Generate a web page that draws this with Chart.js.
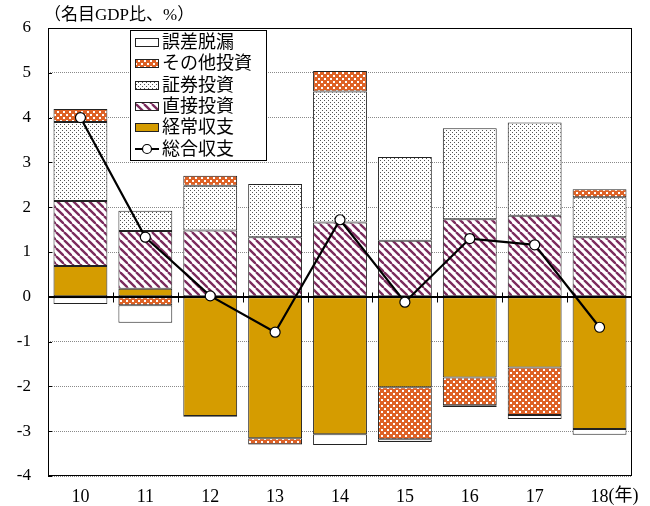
<!DOCTYPE html>
<html>
<head>
<meta charset="utf-8">
<script src="https://cdn.jsdelivr.net/npm/chart.js@4.4.1/dist/chart.umd.min.js"></script>
<style>
  html, body { margin: 0; padding: 0; background: #fff; }
  #wrap { width: 650px; height: 506px; position: relative; }
</style>
</head>
<body>
<div id="wrap"><canvas id="myChart"></canvas></div>
<script>
// data (名目GDP比、%)
const years = ['10', '11', '12', '13', '14', '15', '16', '17', '18'];
const keijo = [0.69, 0.18, -2.66, -3.16, -3.07, -2.02, -1.80, -1.58, -2.95];      // 経常収支
const chokusetsu = [1.45, 1.29, 1.48, 1.33, 1.66, 1.25, 1.73, 1.81, 1.33];        // 直接投資
const shoken = [1.76, 0.45, 1.00, 1.19, 2.92, 1.87, 2.03, 2.08, 0.89];            // 証券投資
const sonota = [0.29, -0.19, 0.22, -0.13, 0.46, -1.16, -0.62, -1.06, 0.18];       // その他投資
const gosa = [-0.16, -0.39, -0.02, -0.01, -0.24, -0.06, -0.04, -0.09, -0.13];     // 誤差脱漏
const sogo = [4.00, 1.33, 0.02, -0.79, 1.72, -0.12, 1.30, 1.16, -0.68];           // 総合収支
const yTicks = [-4, -3, -2, -1, 0, 1, 2, 3, 4, 5, 6];

const FONT = "'Liberation Serif', 'Noto Sans CJK JP', serif";
const GOLD = '#D59C00';
const ORANGE = '#DE6226';
const PLUM = '#7B2A5C';

function makePattern(w, h, draw) {
  const c = document.createElement('canvas');
  c.width = w; c.height = h;
  const g = c.getContext('2d');
  draw(g);
  return g.createPattern(c, 'repeat');
}

// orange checker with small white squares
const checker = makePattern(6, 6, g => {
  g.fillStyle = ORANGE; g.fillRect(0, 0, 6, 6);
  g.fillStyle = '#fff';
  g.fillRect(0, 0, 2, 2);
  g.fillRect(3, 3, 2, 2);
});
const dots = makePattern(4, 4, g => {
  g.fillStyle = '#fff'; g.fillRect(0, 0, 4, 4);
  g.fillStyle = '#555';
  g.fillRect(0, 0, 1, 1);
  g.fillRect(2, 2, 1, 1);
});
const stripes = makePattern(8, 8, g => {
  g.fillStyle = '#fff'; g.fillRect(0, 0, 8, 8);
  g.strokeStyle = PLUM; g.lineWidth = 2.3;
  [-8, 0, 8].forEach(o => {
    g.beginPath(); g.moveTo(o, 0); g.lineTo(o + 8, 8); g.stroke();
  });
});

// box, zero line and the little ticks between years
const framePlugin = {
  id: 'frame',
  beforeDatasetsDraw(chart) {
    const { ctx, chartArea: a, scales } = chart;
    ctx.save();
    ctx.strokeStyle = '#000';
    ctx.lineWidth = 1;
    ctx.strokeRect(a.left + 0.5, a.top + 0.5, a.right - a.left - 1, a.bottom - a.top - 1);
    yTicks.forEach(v => {
      const y = Math.round(scales.y.getPixelForValue(v)) + 0.5;
      ctx.beginPath(); ctx.moveTo(a.left, y); ctx.lineTo(a.left + 4, y); ctx.stroke();
    });
    ctx.restore();
  },
  beforeDatasetDraw(chart, args) {
    if (args.meta.type !== 'line') return;
    const { ctx, chartArea: a, scales } = chart;
    const y0 = Math.round(scales.y.getPixelForValue(0)) + 0.5;
    ctx.save();
    ctx.strokeStyle = '#000';
    ctx.lineWidth = 1.2;
    ctx.beginPath(); ctx.moveTo(a.left, y0); ctx.lineTo(a.right, y0); ctx.stroke();
    ctx.lineWidth = 1;
    for (let i = 0; i < years.length - 1; i++) {
      const x = Math.round((scales.x.getPixelForValue(i) + scales.x.getPixelForValue(i + 1)) / 2) + 0.5;
      ctx.beginPath(); ctx.moveTo(x, y0 - 5); ctx.lineTo(x, y0 + 5); ctx.stroke();
    }
    ctx.restore();
  },
  afterDraw(chart) {
    const { ctx, chartArea: a, scales } = chart;
    ctx.save();
    ctx.fillStyle = '#000';
    ctx.font = '17px ' + FONT;
    ctx.textBaseline = 'middle';
    ctx.textAlign = 'left';
    ctx.fillText('（名目GDP比、%）', a.left - 4, a.top - 12);

    // (年) after the last category label
    ctx.font = '18px ' + FONT;
    const last = scales.x.getPixelForValue(years.length - 1);
    const half = ctx.measureText(years[years.length - 1]).width / 2;
    ctx.fillText('(年)', last + half, a.bottom + 20);

    // legend box inside the plot
    const x0 = a.left + 82, top = a.top + 2, w = 136, h = 130;
    ctx.fillStyle = '#fff';
    ctx.fillRect(x0, top, w, h);
    ctx.strokeStyle = '#000';
    ctx.lineWidth = 1;
    ctx.strokeRect(x0 + 0.5, top + 0.5, w, h);
    const order = [4, 3, 2, 1, 0, 5];
    order.forEach((di, i) => {
      const ds = chart.data.datasets[di];
      const cy = Math.round(top + 12 + i * 21.3);
      if (ds.type === 'line') {
        ctx.strokeStyle = '#000'; ctx.lineWidth = 2;
        ctx.beginPath(); ctx.moveTo(x0 + 5, cy); ctx.lineTo(x0 + 29, cy); ctx.stroke();
        ctx.fillStyle = '#fff'; ctx.lineWidth = 1.2;
        ctx.beginPath(); ctx.arc(x0 + 17, cy, 4.5, 0, Math.PI * 2); ctx.fill(); ctx.stroke();
      } else {
        ctx.fillStyle = ds.backgroundColor;
        ctx.fillRect(x0 + 5, cy - 4, 24, 8);
        ctx.strokeStyle = '#222'; ctx.lineWidth = 1;
        ctx.strokeRect(x0 + 5.5, cy - 3.5, 23, 8);
      }
      ctx.fillStyle = '#000';
      ctx.font = '18px ' + FONT;
      ctx.fillText(ds.label, x0 + 32, cy + 1);
    });
    ctx.restore();
  }
};

const barBase = {
  type: 'bar',
  stack: 'bop',
  borderColor: '#222',
  borderWidth: 1,
  borderSkipped: false,
  barPercentage: 0.83,
  categoryPercentage: 1,
  order: 1
};

new Chart(document.getElementById('myChart'), {
  data: {
    labels: years,
    datasets: [
      { ...barBase, label: '経常収支', data: keijo, backgroundColor: GOLD },
      { ...barBase, label: '直接投資', data: chokusetsu, backgroundColor: stripes },
      { ...barBase, label: '証券投資', data: shoken, backgroundColor: dots },
      { ...barBase, label: 'その他投資', data: sonota, backgroundColor: checker },
      { ...barBase, label: '誤差脱漏', data: gosa, backgroundColor: '#fff' },
      {
        type: 'line',
        label: '総合収支',
        data: sogo,
        stack: 'total',
        order: 0,
        borderColor: '#000',
        borderWidth: 2.2,
        tension: 0,
        pointRadius: 5,
        pointBackgroundColor: '#fff',
        pointBorderColor: '#000',
        pointBorderWidth: 1.2
      }
    ]
  },
  options: {
    responsive: true,
    maintainAspectRatio: false,
    animation: false,
    layout: { padding: { top: 28, right: 18, left: 0, bottom: 0 } },
    plugins: { legend: { display: false }, tooltip: { enabled: false } },
    scales: {
      x: {
        stacked: true,
        afterFit: s => { s.height = 30; },
        grid: { display: false, drawTicks: false },
        border: { display: false },
        ticks: { color: '#000', padding: 10, font: { family: FONT, size: 18 } }
      },
      y: {
        stacked: true,
        min: -4,
        max: 6,
        afterFit: s => { s.width = 48; },
        afterBuildTicks: s => { s.ticks = yTicks.map(v => ({ value: v })); },
        grid: {
          drawTicks: false,
          color: c => (c.tick && c.tick.value === 0 ? '#000' : '#8a8a8a'),
          lineWidth: 1
        },
        border: { display: false, dash: c => (c.tick && c.tick.value === 0 ? [] : [1, 1]) },
        ticks: { color: '#000', padding: 17, font: { family: FONT, size: 17 } }
      }
    }
  },
  plugins: [framePlugin]
});
</script>
</body>
</html>
